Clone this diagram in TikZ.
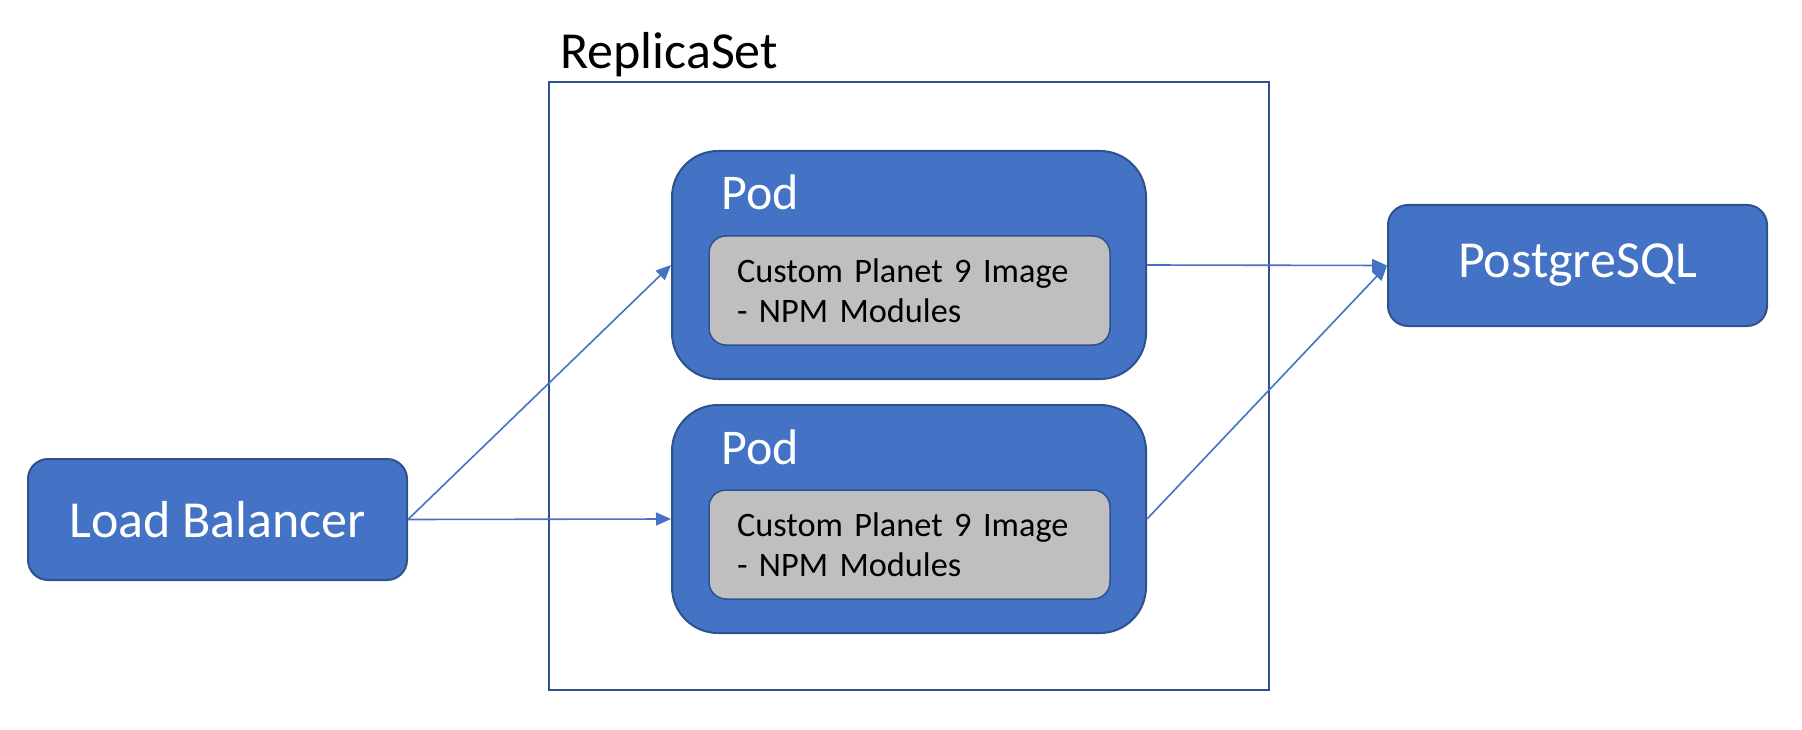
\documentclass[tikz,border=0pt]{standalone}
\usepackage{fontspec}
\setmainfont{Carlito}
\usetikzlibrary{arrows.meta}
\definecolor{fillblue}{HTML}{4472C4}
\definecolor{edgeblue}{HTML}{2F528F}
\definecolor{boxgray}{HTML}{BFBFBF}
\tikzset{
  bluebox/.style={draw=edgeblue, line width=2pt, fill=fillblue, rounded corners=20pt,
    minimum width=379pt, minimum height=121pt, inner sep=0pt, text=white,
    font=\fontsize{52}{62}\selectfont},
  podbox/.style={draw=edgeblue, line width=2pt, fill=fillblue, rounded corners=46pt,
    minimum width=474pt, minimum height=228pt, inner sep=0pt},
  imgbox/.style={draw=edgeblue, line width=1.5pt, fill=boxgray, rounded corners=17pt,
    minimum width=401pt, minimum height=109pt, text width=345pt, inner xsep=28pt, inner ysep=0pt,
    align=left, font=\fontsize{34.3}{40}\selectfont},
  podlabel/.style={anchor=base west, inner sep=0pt, text=white, font=\fontsize{50}{60}\selectfont},
  arr/.style={draw=fillblue, line width=1.6pt, -{Triangle[length=15pt, width=13pt]}},
  rsbox/.style={draw=edgeblue, line width=2.5pt, minimum width=720pt, minimum height=608pt, inner sep=0pt}
}
\begin{document}
\begin{tikzpicture}[x=1pt, y=-1pt]
\useasboundingbox (0,0) rectangle (1802,730);
\node[rsbox] (rs) at (909,386) {};
\node[anchor=base west, inner sep=0pt, font=\fontsize{52}{62}\selectfont] (rslabel) at (560,69) {ReplicaSet};
\node[bluebox] (lb) at (217.5,519.5) {Load Balancer};
\node[bluebox] (pg) at (1577.5,265.5) {PostgreSQL};
\node[podbox] (pod1) at (909,265) {};
\node[podbox] (pod2) at (909,519) {};
\node[podlabel] (pod1l) at (721,210) {Pod};
\node[podlabel] (pod2l) at (721,464) {Pod};
\node[imgbox] (img1) at (909.5,290.5) {Custom Planet 9 Image\\- NPM Modules};
\node[imgbox] (img2) at (909.5,544.5) {Custom Planet 9 Image\\- NPM Modules};
\draw[arr] (lb.east) -- (pod1.west);
\draw[arr] (lb.east) -- (pod2.west);
\draw[arr] (pod1.east) -- (pg.west);
\draw[arr] (pod2.east) -- (pg.west);
\end{tikzpicture}
\end{document}
